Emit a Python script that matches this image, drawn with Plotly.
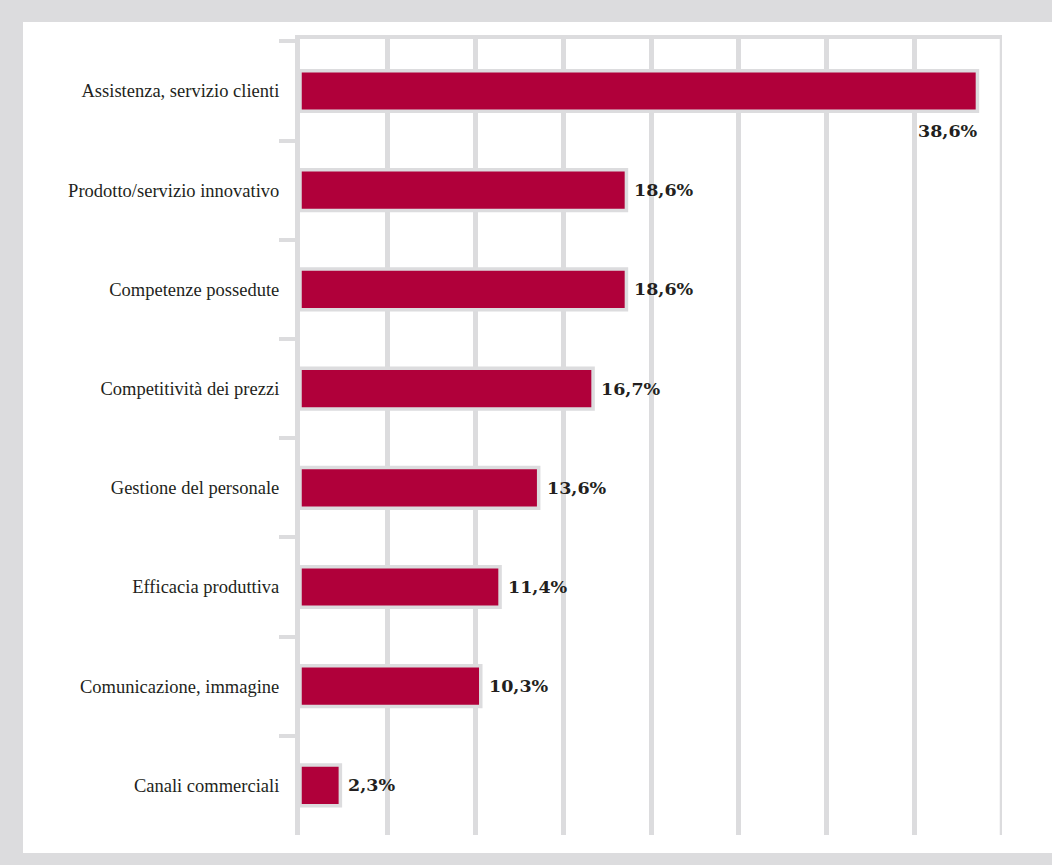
import plotly.graph_objects as go

# Categories listed top to bottom, with their shares (%)
categories = [
    "Assistenza, servizio clienti",
    "Prodotto/servizio innovativo",
    "Competenze possedute",
    "Competitività dei prezzi",
    "Gestione del personale",
    "Efficacia produttiva",
    "Comunicazione, immagine",
    "Canali commerciali",
]
values = [38.6, 18.6, 18.6, 16.7, 13.6, 11.4, 10.3, 2.3]
value_labels = ["38,6%", "18,6%", "18,6%", "16,7%", "13,6%", "11,4%", "10,3%", "2,3%"]

BAR_RED = "#b0003a"
LIGHT_GRAY = "#dcdcde"
TEXT = "#231f20"

W, H = 1052, 865
ML, MR, MT, MB = 300, 50, 39, 30
PW, PH = W - ML - MR, H - MT - MB


def px_x(x):
    return (x - ML) / PW


def px_y(y):
    return (H - MB - y) / PH


fig = go.Figure()

fig.add_trace(go.Bar(
    y=categories,
    x=values,
    orientation="h",
    width=0.41,
    marker=dict(color=BAR_RED, line=dict(color=LIGHT_GRAY, width=3.5)),
    hoverinfo="skip",
))

label_font = dict(family="DejaVu Serif", size=17.5, color=TEXT, weight="bold")

# Value labels: beside the bar, except the longest which sits beneath its end
annotations = []
for i, (cat, v, lab) in enumerate(zip(categories, values, value_labels)):
    if i == 0:
        annotations.append(dict(
            x=v, y=cat, text=lab, showarrow=False,
            xanchor="right", yanchor="middle", xshift=3, yshift=-40,
            font=label_font,
        ))
    else:
        annotations.append(dict(
            x=v, y=cat, text=lab, showarrow=False,
            xanchor="left", yanchor="middle", xshift=6,
            font=label_font,
        ))

shapes = [
    # White panel inside the grey frame
    dict(
        type="rect", xref="paper", yref="paper", layer="below",
        x0=px_x(23), x1=px_x(1060), y0=px_y(853), y1=px_y(22),
        fillcolor="white", line=dict(width=0),
    ),
    # Closing gridline at the right end of the scale
    dict(
        type="line", xref="x", yref="paper", layer="below",
        x0=40, x1=40, y0=0, y1=1,
        line=dict(color=LIGHT_GRAY, width=4.5),
    ),
]

fig.update_layout(
    width=W, height=H,
    margin=dict(l=ML, r=MR, t=MT, b=MB),
    paper_bgcolor=LIGHT_GRAY,
    plot_bgcolor="rgba(0,0,0,0)",
    showlegend=False,
    annotations=annotations,
    shapes=shapes,
    xaxis=dict(
        range=[0, 40], dtick=5, side="top",
        showgrid=True, gridcolor=LIGHT_GRAY, gridwidth=4.5,
        showline=True, linecolor=LIGHT_GRAY, linewidth=4,
        zeroline=False, showticklabels=False, ticks="",
        fixedrange=True,
    ),
    yaxis=dict(
        type="category", autorange="reversed",
        tickson="boundaries", ticks="outside", ticklen=16,
        tickwidth=4, tickcolor=LIGHT_GRAY,
        showline=True, linecolor=LIGHT_GRAY, linewidth=5,
        showgrid=False, zeroline=False,
        tickfont=dict(family="Liberation Serif", size=18.5, color=TEXT),
        ticklabelstandoff=12,
        fixedrange=True,
    ),
)

fig.write_html("out.html", config={"displayModeBar": False})
